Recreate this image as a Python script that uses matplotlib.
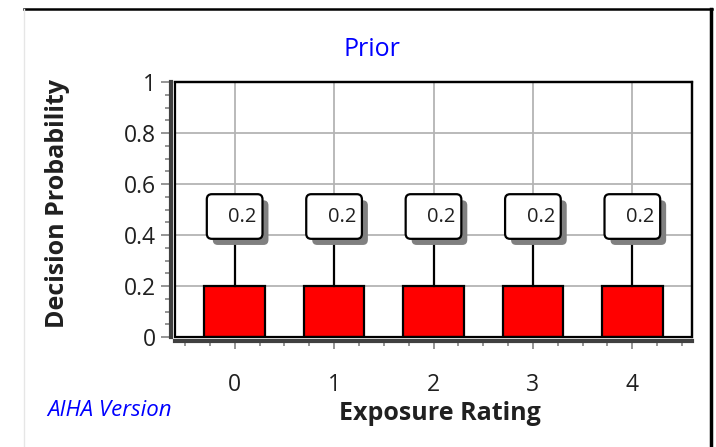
import matplotlib
matplotlib.use("Agg")
import matplotlib.pyplot as plt
from matplotlib.patches import FancyBboxPatch, Rectangle
from matplotlib.lines import Line2D
from matplotlib.ticker import MultipleLocator

plt.rcParams['font.family'] = ['Open Sans', 'DejaVu Sans']

# Data
ratings = [0, 1, 2, 3, 4]
rating_labels = ["0", "1", "2", "3", "4"]
probabilities = [0.2, 0.2, 0.2, 0.2, 0.2]
y_ticks = [0, 0.2, 0.4, 0.6, 0.8, 1.0]
y_tick_labels = ["0", "0.2", "0.4", "0.6", "0.8", "1"]

W, H = 716, 447
fig = plt.figure(figsize=(W / 100, H / 100), dpi=100)

# Outer panel border
fig.add_artist(Line2D([24 / W, 712 / W], [1 - 9 / H, 1 - 9 / H], color='black', lw=1.8))
fig.add_artist(Line2D([711 / W, 711 / W], [0, 1 - 9 / H], color='black', lw=2.5))
fig.add_artist(Line2D([24 / W, 24 / W], [0, 1 - 9 / H], color='#e6e6e6', lw=1))

ax_l, ax_r, ax_t, ax_b = 175, 692, 82, 337
ax = fig.add_axes([ax_l / W, 1 - ax_b / H, (ax_r - ax_l) / W, (ax_b - ax_t) / H])
ax.set_xlim(-0.6, 4.6)
ax.set_ylim(0, 1)

# Grid
ax.set_xticks(ratings)
ax.set_xticklabels(rating_labels)
ax.set_yticks(y_ticks)
ax.set_yticklabels(y_tick_labels)
ax.xaxis.set_minor_locator(MultipleLocator(0.25))
ax.yaxis.set_minor_locator(MultipleLocator(0.05))
ax.grid(True, which='major', color='#b4b4b4', lw=1.3, zorder=0)
ax.set_axisbelow(True)

# Spines: thick grey axis lines offset from a black frame
for s in ('left', 'bottom'):
    ax.spines[s].set_position(('outward', 3))
    ax.spines[s].set_color('#404040')
    ax.spines[s].set_linewidth(3)
for s in ('top', 'right'):
    ax.spines[s].set_color('black')
    ax.spines[s].set_linewidth(1.6)
ax.add_patch(Rectangle((0, 0), 1, 1, transform=ax.transAxes, fill=False,
                       edgecolor='black', lw=1.6, clip_on=False, zorder=5))

ax.tick_params(axis='y', which='major', length=7, width=1.3, color='#8c8c8c',
               labelsize=16.5, pad=4)
ax.tick_params(axis='y', which='minor', length=4, width=1.3, color='#8c8c8c')
ax.tick_params(axis='x', which='major', length=6, width=1.3, color='#8c8c8c',
               labelsize=16.5, pad=17)
ax.tick_params(axis='x', which='minor', length=3.5, width=1.3, color='#8c8c8c')
for lbl in ax.get_xticklabels() + ax.get_yticklabels():
    lbl.set_color('#202020')

# Bars
ax.bar(ratings, probabilities, width=0.61, color='#ff0000', edgecolor='black',
       lw=1.6, zorder=3)

# Value callouts
box_w, box_bot, box_top = 0.56, 0.385, 0.56
sx, sy = 0.06, -0.024
for x, p in zip(ratings, probabilities):
    ax.plot([x, x], [p, box_bot], color='black', lw=1.6, zorder=3)
    shadow = FancyBboxPatch((x - box_w / 2 + sx, box_bot + sy), box_w, box_top - box_bot,
                            boxstyle="round,pad=0,rounding_size=0.05", mutation_aspect=0.4,
                            facecolor='#808080', edgecolor='none', zorder=3)
    ax.add_patch(shadow)
    box = FancyBboxPatch((x - box_w / 2, box_bot), box_w, box_top - box_bot,
                         boxstyle="round,pad=0,rounding_size=0.05", mutation_aspect=0.4,
                         facecolor='white', edgecolor='black', lw=1.6, zorder=4)
    ax.add_patch(box)
    ax.text(x + 0.08, (box_bot + box_top) / 2, f"{p:g}", ha='center', va='center',
            fontsize=14.5, color='#202020', zorder=5)

# Titles and labels
fig.text(372 / W, 1 - 50 / H, "Prior", color='#0000ff', fontsize=18,
         ha='center', va='center')
fig.text(58 / W, 1 - 203 / H, "Decision Probability", rotation=90, fontsize=18,
         fontweight='bold', ha='center', va='center', color='#202020')
fig.text(440 / W, 1 - 413 / H, "Exposure Rating", fontsize=18,
         fontweight='bold', ha='center', va='center', color='#202020')
fig.text(47 / W, 1 - 410 / H, "AIHA Version", fontsize=16, style='italic',
         color='#0000ff', ha='left', va='center')

fig.savefig("out.png", dpi=100)
